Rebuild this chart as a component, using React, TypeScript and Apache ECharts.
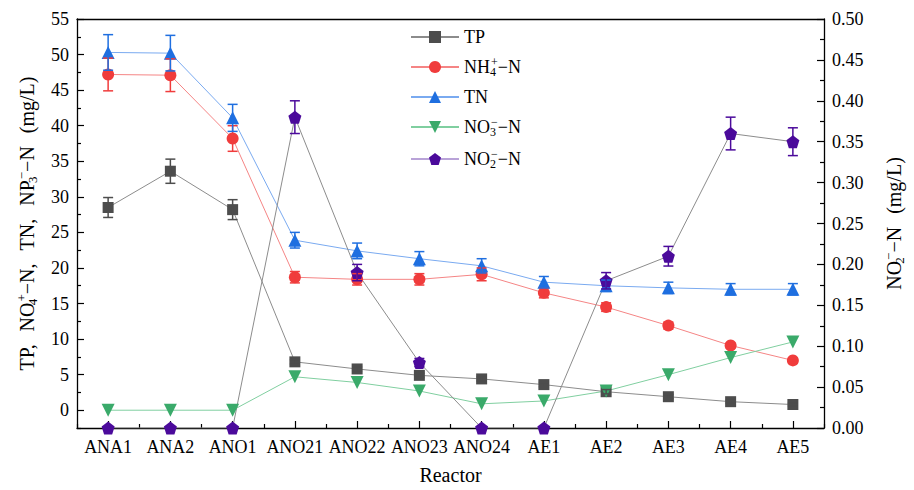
import React, { useEffect, useRef } from 'react';
import * as echarts from 'echarts';

const categories = ['ANA1', 'ANA2', 'ANO1', 'ANO21', 'ANO22', 'ANO23', 'ANO24', 'AE1', 'AE2', 'AE3', 'AE4', 'AE5'];
const tp = [28.5, 33.6, 28.2, 6.8, 5.8, 4.9, 4.4, 3.6, 2.6, 1.9, 1.2, 0.8];
const tpErr = [1.4, 1.7, 1.4, 0.3, 0.3, 0.3, 0.3, 0.3, 0.3, 0.3, 0.2, 0.2];
const nh4 = [47.2, 47.1, 38.2, 18.7, 18.4, 18.4, 19.1, 16.5, 14.5, 11.9, 9.1, 7.0];
const nh4Err = [2.3, 2.3, 1.8, 0.8, 0.8, 0.8, 0.9, 0.7, 0.6, 0.5, 0.3, 0.3];
const tn = [50.3, 50.2, 41.1, 23.9, 22.4, 21.3, 20.3, 18.0, 17.5, 17.2, 17.0, 17.0];
const tnErr = [2.5, 2.5, 1.9, 1.1, 1.1, 1.0, 1.0, 0.8, 0.8, 0.8, 0.8, 0.8];
const no3 = [0, 0, 0, 4.7, 3.9, 2.7, 0.9, 1.3, 2.7, 5.0, 7.4, 9.6];
const no2 = [0, 0, 0, 0.38, 0.19, 0.08, 0, 0, 0.18, 0.21, 0.36, 0.35];
const no2Err = [0, 0, 0, 0.02, 0.01, 0.005, 0, 0, 0.01, 0.012, 0.02, 0.017];

const leftTicks = [0, 5, 10, 15, 20, 25, 30, 35, 40, 45, 50, 55];
const leftMinorTicks = [-2.5, 2.5, 7.5, 12.5, 17.5, 22.5, 27.5, 32.5, 37.5, 42.5, 47.5, 52.5];
const rightTickLabels = ['0.00', '0.05', '0.10', '0.15', '0.20', '0.25', '0.30', '0.35', '0.40', '0.45', '0.50'];

const FONT = "'Times New Roman', 'Liberation Serif', 'DejaVu Serif', serif";
const PENTAGON = 'path://M0,-1 L0.951,-0.309 L0.588,0.809 L-0.588,0.809 L-0.951,-0.309 Z';

const legendNames: Record<string, string> = {
  TP: '{n|TP}',
  NH4: '{n|NH}{sub|4}{sup|+}{n|−N}',
  TN: '{n|TN}',
  NO3: '{n|NO}{sub|3}{sup|−}{n|−N}',
  NO2: '{n|NO}{sub|2}{sup|−}{n|−N}',
};

function richSet(size: number, small: number, lh: number) {
  return {
    n: { fontSize: size, fontFamily: FONT, color: '#000', lineHeight: lh },
    sub: { fontSize: small, fontFamily: FONT, color: '#000', lineHeight: small, verticalAlign: 'bottom', width: 1 },
    sup: { fontSize: small, fontFamily: FONT, color: '#000', lineHeight: small, verticalAlign: 'top' },
    sp: { fontSize: size, fontFamily: FONT, width: 13, lineHeight: lh },
  };
}

function errorSeries(name: string, vals: number[], errs: number[], color: string, yAxisIndex = 0) {
  const data = vals
    .map((v, i) => [i, v - errs[i], v + errs[i]])
    .filter((d, i) => errs[i] > 0);
  return {
    type: 'custom',
    name: name + '_err',
    xAxisIndex: 0,
    yAxisIndex,
    data,
    encode: { x: 0, y: [1, 2] },
    z: 4,
    clip: false,
    renderItem: (params: any, api: any) => {
      const x = api.value(0);
      const lo = api.coord([x, api.value(1)]);
      const hi = api.coord([x, api.value(2)]);
      const hw = 5;
      const style = { stroke: color, lineWidth: 1.5, fill: null };
      return {
        type: 'group',
        children: [
          { type: 'line', shape: { x1: lo[0], y1: lo[1], x2: hi[0], y2: hi[1] }, style },
          { type: 'line', shape: { x1: lo[0] - hw, y1: lo[1], x2: lo[0] + hw, y2: lo[1] }, style },
          { type: 'line', shape: { x1: hi[0] - hw, y1: hi[1], x2: hi[0] + hw, y2: hi[1] }, style },
        ],
      };
    },
  };
}

export default function App() {
  const ref = useRef<HTMLDivElement>(null);
  useEffect(() => {
    document.body.style.margin = '0';
    const chart = echarts.init(ref.current!, null, { renderer: 'svg' });
    const axisLine = { show: true, onZero: false, lineStyle: { color: '#000', width: 1.3 } };
    const labelStyle = { fontFamily: FONT, fontSize: 18, color: '#000' };
    const option: any = {
      animation: false,
      backgroundColor: '#fff',
      textStyle: { fontFamily: FONT },
      grid: { left: 77, right: 82, top: 19, bottom: 56, containLabel: false },
      legend: {
        orient: 'vertical',
        left: 405,
        top: 23,
        itemWidth: 48,
        itemHeight: 15,
        itemGap: 10,
        textStyle: { fontFamily: FONT, fontSize: 18, color: '#000', rich: richSet(18, 12, 22) },
        formatter: (name: string) => legendNames[name] || name,
        data: [
          { name: 'TP' },
          { name: 'NH4' },
          { name: 'TN' },
          { name: 'NO3' },
          { name: 'NO2', lineStyle: { color: '#b9a3d8' } },
        ],
      },
      xAxis: [
        {
          type: 'category',
          data: categories,
          position: 'bottom',
          boundaryGap: true,
          axisLine,
          axisTick: { show: true, alignWithLabel: true, inside: true, length: 7, lineStyle: { color: '#000', width: 1.2 } },
          axisLabel: { ...labelStyle, interval: 0, margin: 10 },
          splitLine: { show: false },
          name: 'Reactor',
          nameLocation: 'middle',
          nameGap: 37,
          nameTextStyle: { fontFamily: FONT, fontSize: 20, color: '#000' },
        },
        {
          type: 'category',
          data: categories,
          position: 'bottom',
          boundaryGap: true,
          axisLine: { show: false, onZero: false },
          axisTick: { show: true, alignWithLabel: false, inside: true, length: 4, lineStyle: { color: '#000', width: 1.2 } },
          axisLabel: { show: false },
          splitLine: { show: false },
        },
        {
          type: 'category',
          data: categories,
          position: 'top',
          axisLine,
          axisTick: { show: false },
          axisLabel: { show: false },
          splitLine: { show: false },
        },
      ],
      yAxis: [
        {
          type: 'value',
          position: 'left',
          min: -2.5,
          max: 55,
          axisLine,
          axisTick: { show: true, inside: true, length: 7, customValues: leftTicks, lineStyle: { color: '#000', width: 1.2 } },
          axisLabel: { ...labelStyle, margin: 8, customValues: leftTicks },
          splitLine: { show: false },
          name: '{n|TP,}{sp| }{n|NO}{sub|4}{sup|+}{n|−N,}{sp| }{n|TN,}{sp| }{n|NP}{sub|3}{sup|−}{n|−N}{sp| }{n|(mg/L)}',
          nameLocation: 'middle',
          nameRotate: 90,
          nameGap: 38,
          nameTextStyle: { fontFamily: FONT, fontSize: 20, color: '#000', rich: richSet(20, 13, 24) },
        },
        {
          type: 'value',
          position: 'right',
          min: 0,
          max: 0.5,
          interval: 0.05,
          axisLine,
          axisTick: { show: true, inside: true, length: 7, lineStyle: { color: '#000', width: 1.2 } },
          minorTick: { show: true, splitNumber: 2, length: 4, lineStyle: { color: '#000', width: 1.2 } },
          axisLabel: {
            ...labelStyle,
            margin: 8,
            formatter: (v: number) => rightTickLabels[Math.round(v / 0.05)] ?? '',
          },
          splitLine: { show: false },
          minorSplitLine: { show: false },
          name: '{n|NO}{sub|2}{sup|−}{n|−N}{sp| }{n|(mg/L)}',
          nameLocation: 'middle',
          nameRotate: 90,
          nameGap: 58,
          nameTextStyle: { fontFamily: FONT, fontSize: 20, color: '#000', rich: richSet(20, 13, 24) },
        },
        {
          type: 'value',
          position: 'left',
          min: -2.5,
          max: 55,
          axisLine: { show: false },
          axisTick: { show: true, inside: true, length: 4, customValues: leftMinorTicks, lineStyle: { color: '#000', width: 1.2 } },
          axisLabel: { show: false },
          splitLine: { show: false },
        },
      ],
      series: [
        {
          type: 'line', name: 'TP', data: tp, xAxisIndex: 0, yAxisIndex: 0,
          symbol: 'rect', symbolSize: 11, itemStyle: { color: '#4d4d4d' },
          lineStyle: { color: '#8c8c8c', width: 1 }, z: 3,
        },
        {
          type: 'line', name: 'NH4', data: nh4, xAxisIndex: 0, yAxisIndex: 0,
          symbol: 'circle', symbolSize: 12, itemStyle: { color: '#f03c3c' },
          lineStyle: { color: '#f58585', width: 1 }, z: 3,
        },
        {
          type: 'line', name: 'TN', data: tn, xAxisIndex: 0, yAxisIndex: 0,
          symbol: 'triangle', symbolSize: 13, itemStyle: { color: '#1f6fe0' },
          lineStyle: { color: '#7aaaf0', width: 1 }, z: 3,
        },
        {
          type: 'line', name: 'NO3', data: no3, xAxisIndex: 0, yAxisIndex: 0,
          symbol: 'triangle', symbolRotate: 180, symbolSize: 13, itemStyle: { color: '#3aaa6a' },
          lineStyle: { color: '#80cfa0', width: 1 }, z: 3,
        },
        {
          type: 'line', name: 'NO2', data: no2, xAxisIndex: 0, yAxisIndex: 1,
          symbol: PENTAGON, symbolSize: 13, itemStyle: { color: '#4b0a9b' },
          lineStyle: { color: '#8c8c8c', width: 1 }, z: 3,
        },
        errorSeries('TP', tp, tpErr, '#4d4d4d'),
        errorSeries('NH4', nh4, nh4Err, '#f03c3c'),
        errorSeries('TN', tn, tnErr, '#1f6fe0'),
        errorSeries('NO2', no2, no2Err, '#4b0a9b', 1),
      ],
    };
    chart.setOption(option);
    return () => chart.dispose();
  }, []);
  return <div ref={ref} style={{ width: 914, height: 490 }} />;
}
